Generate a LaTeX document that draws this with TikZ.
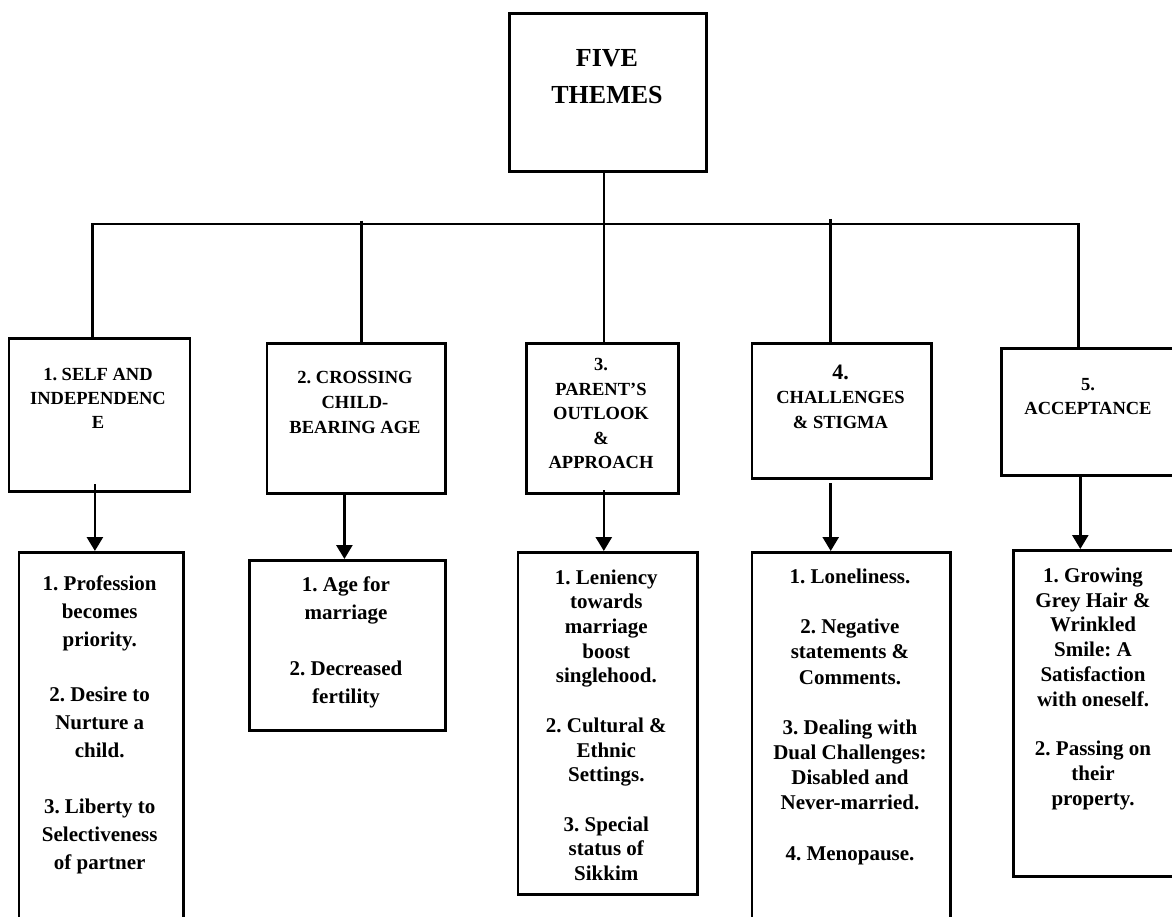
\documentclass[tikz,border=0pt]{standalone}
\usepackage{fontspec}
\setmainfont{Liberation Serif}
\usetikzlibrary{arrows.meta,calc}
\frenchspacing
\begin{document}
\begin{tikzpicture}[x=1pt,y=-1pt,
  frame/.style={draw=black, line width=2.7pt, rectangle, inner sep=0pt, anchor=north west},
  link/.style={draw=black, line width=2.6pt},
  arr/.style={link, -{Triangle[width=16pt,length=14pt]}},
  head/.style={font=\bfseries\fontsize{18.5}{24.5}\selectfont, align=center, anchor=north, inner sep=0pt},
  body/.style={font=\bfseries\fontsize{21}{25}\selectfont, align=center, anchor=north, inner sep=0pt}]
\useasboundingbox (0,0) rectangle (1172,917);
\clip (0,0) rectangle (1172,917);

% root box
\node[frame, minimum width=197.3pt, minimum height=158pt] (top) at (508,12) {};
\node[font=\bfseries\fontsize{26}{37}\selectfont, align=center, anchor=north, inner sep=0pt]
  (toptxt) at (607,49) {FIVE\\THEMES};

% theme boxes
\node[frame, minimum width=180.9pt, minimum height=153pt] (b1) at (7.7,337) {};
\node[frame, minimum width=178.7pt, minimum height=150pt] (b2) at (265.6,342) {};
\node[frame, minimum width=152.4pt, minimum height=150pt] (b3) at (525,342) {};
\node[frame, minimum width=179.7pt, minimum height=135pt] (b4) at (750.7,342) {};
\node[frame, minimum width=175.8pt, minimum height=127pt] (b5) at (1000.2,347) {};

\node[head, font=\bfseries\fontsize{18.5}{24}\selectfont] (h1) at (98,368.5) {1. SELF AND\\INDEPENDENC\\E};
\node[head, font=\bfseries\fontsize{18.5}{25}\selectfont] (h2) at (355,371.5) {2. CROSSING\\CHILD-\\BEARING AGE};
\node[head] (h3) at (601,358.5) {3.\\PARENT'S\\OUTLOOK\\\&\\APPROACH};
\node[head] (h4) at (840.5,364.5) {{\fontsize{22}{24.5}\selectfont 4.}\\CHALLENGES\\\& STIGMA};
\node[head, font=\bfseries\fontsize{18.5}{24}\selectfont] (h5) at (1088,378.5) {5.\\ACCEPTANCE};

% detail boxes
\node[frame, minimum width=164.2pt, minimum height=380pt] (c1) at (17.6,551) {};
\node[frame, minimum width=196.3pt, minimum height=170pt] (c2) at (248,559) {};
\node[frame, minimum width=179.3pt, minimum height=342pt] (c3) at (516.6,551) {};
\node[frame, minimum width=198.5pt, minimum height=380pt] (c4) at (750.7,551) {};
\node[frame, minimum width=163.7pt, minimum height=326pt] (c5) at (1012.3,549) {};

\node[body, font=\bfseries\fontsize{21}{27.9}\selectfont] (d1) at (99.7,575.4)
  {1. Profession\\becomes\\priority.\\[27.9pt]2. Desire to\\Nurture a\\child.\\[27.9pt]3. Liberty to\\Selectiveness\\of partner};
\node[body, font=\bfseries\fontsize{21}{27.9}\selectfont] (d2) at (346,577)
  {1. Age for\\marriage\\[27.9pt]2. Decreased\\fertility};
\node[body, font=\bfseries\fontsize{21}{24.7}\selectfont] (d3) at (606.3,569.4)
  {1. Leniency\\towards\\marriage\\boost\\singlehood.\\[24.7pt]2. Cultural \&\\Ethnic\\Settings.\\[24.7pt]3. Special\\status of\\Sikkim};
\node[body, font=\bfseries\fontsize{21}{25.15}\selectfont] (d4) at (850,568.7)
  {1. Loneliness.\\[25.15pt]2. Negative\\statements \&\\Comments.\\[25.15pt]3. Dealing with\\Dual Challenges:\\Disabled and\\Never-married.\\[25.15pt]4. Menopause.};
\node[body, font=\bfseries\fontsize{21}{24.75}\selectfont] (d5) at (1093,567.7)
  {1. Growing\\Grey Hair \&\\Wrinkled\\Smile: A\\Satisfaction\\with oneself.\\[24.75pt]2. Passing on\\their\\property.};

% bus from the root to the five themes
\coordinate (bus) at (603.8,224);
\coordinate (j1) at (92.6,224);
\coordinate (j2) at (361.6,220.7);
\coordinate (j4) at (830.7,219);
\coordinate (j5) at (1078.4,224);
\draw[link] (bus |- top.south) -- (bus);
\draw[link] (j1 |- b1.north) -- (j1) -- (j5) -- (j5 |- b5.north);
\draw[link] (j2) -- (j2 |- b2.north);
\draw[link] (bus) -- (bus |- b3.north);
\draw[link] (j4) -- (j4 |- b4.north);

% arrows from themes to details
\coordinate (a1) at (94.9,484);
\coordinate (a2) at (344.4,492);
\coordinate (a3) at (603.8,490);
\coordinate (a4) at (830.7,483);
\coordinate (a5) at (1080.3,474);
\draw[arr] (a1) -- (a1 |- c1.north);
\draw[arr] (a2) -- (a2 |- c2.north);
\draw[arr] (a3) -- (a3 |- c3.north);
\draw[arr] (a4) -- (a4 |- c4.north);
\draw[arr] (a5) -- (a5 |- c5.north);
\end{tikzpicture}
\end{document}
